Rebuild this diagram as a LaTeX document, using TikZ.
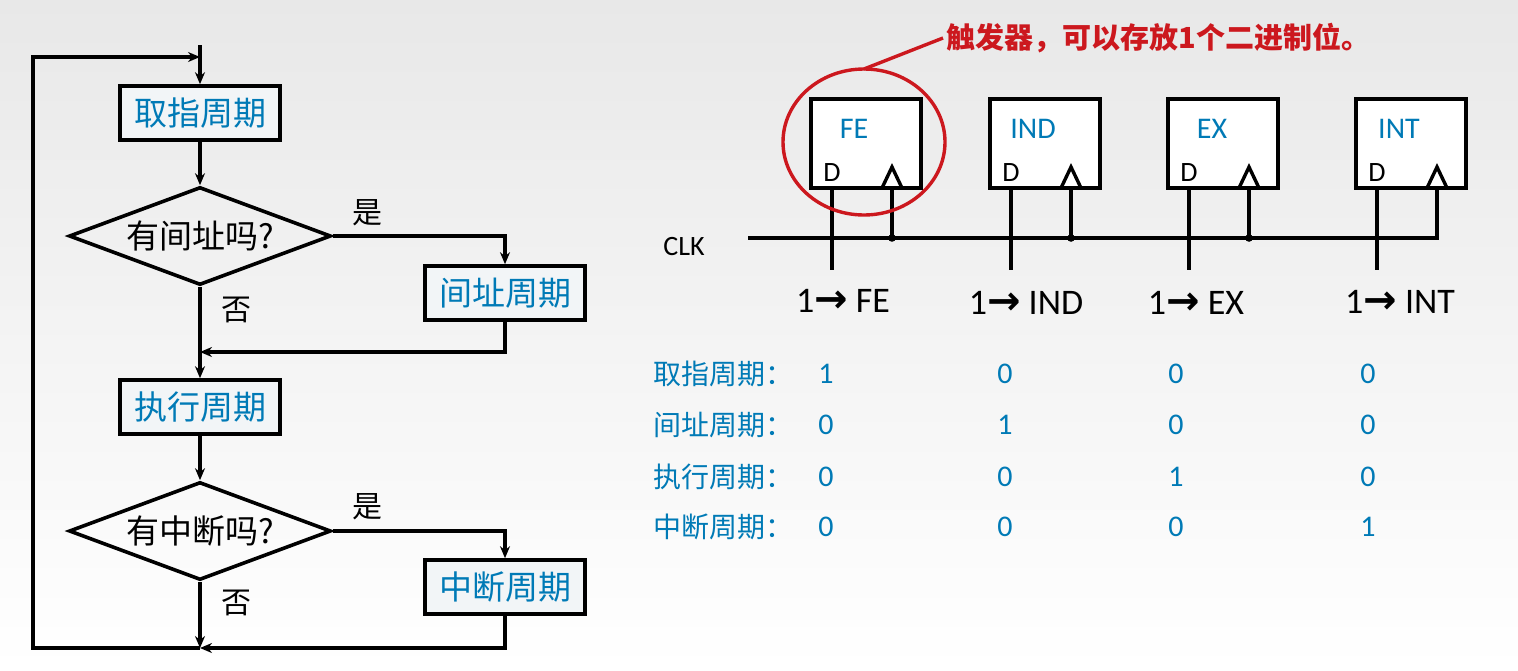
\documentclass[tikz,border=0pt]{standalone}
\usepackage{fontspec}
\setmainfont{Carlito}
\newfontfamily\cjk{Noto Sans CJK SC}
\newfontfamily\arrowfont{DejaVu Sans}
\usetikzlibrary{shapes.geometric,arrows.meta}
\definecolor{cycleblue}{RGB}{0,122,182}
\definecolor{boxfill}{RGB}{242,245,247}
\definecolor{markred}{RGB}{204,24,30}

\begin{document}
\begin{tikzpicture}[x=1pt, y=-1pt,
    cycle/.style={rectangle, draw=black, line width=3.6pt, fill=boxfill,
        minimum width=160pt, minimum height=54pt, inner sep=0pt,
        font=\cjk\fontsize{33}{33}\selectfont, text=cycleblue},
    query/.style={diamond, draw=black, line width=3.6pt, aspect=2.65,
        minimum width=262pt, minimum height=98pt, inner sep=0pt,
        font=\cjk\fontsize{33}{33}\selectfont},
    answer/.style={font=\cjk\fontsize{30}{30}\selectfont},
    flow/.style={line width=3.4pt, -{Stealth[length=12pt,width=10pt]}},
    ff/.style={rectangle, draw=black, line width=3.6pt, fill=white,
        minimum width=110pt, minimum height=89pt},
    ffname/.style={font=\fontsize{30}{30}\selectfont, text=cycleblue},
    pin/.style={font=\fontsize{28}{28}\selectfont},
    wire/.style={line width=3.4pt},
    setbit/.style={font=\fontsize{36}{36}\selectfont},
    rowname/.style={anchor=west, font=\cjk\fontsize{28}{28}\selectfont, text=cycleblue},
    bit/.style={font=\fontsize{30}{30}\selectfont, text=cycleblue}
]
    \fill[top color=gray!18, bottom color=white] (0,0) rectangle (1518,670);

    % flowchart
    \coordinate (start) at (200,45);
    \coordinate (top) at (200,57);
    \coordinate (j1) at (200,352);
    \coordinate (j2) at (200,648);
    \coordinate (lb) at (33,648);
    \coordinate (lt) at (33,57);
    \node[cycle] (fetch) at (200,113) {取指周期};
    \node[query] (q1) at (200,236) {有间址吗?};
    \node[cycle] (ind) at (505,293) {间址周期};
    \node[cycle] (exe) at (200,407) {执行周期};
    \node[query] (q2) at (200,531) {有中断吗?};
    \node[cycle] (intr) at (505,587) {中断周期};
    \node[answer] (yes1) at (367,213) {是};
    \node[answer] (no1) at (236,310) {否};
    \node[answer] (yes2) at (367,507) {是};
    \node[answer] (no2) at (236,603) {否};
    \draw[flow] (start) -- (fetch);
    \draw[flow] (fetch) -- (q1);
    \draw[flow] (q1.east) -| (ind);
    \draw[flow] (q1) -- (exe);
    \draw[flow] (ind) |- (j1);
    \draw[flow] (exe) -- (q2);
    \draw[flow] (q2.east) -| (intr);
    \draw[flow] (q2) -- (j2);
    \draw[flow] (intr) |- (j2);
    \draw[flow] (j2) -- (lb) -- (lt) -- (top);

    % flip-flops
    \node[ff] (fe) at (866,143.5) {};
    \node[ff] (indff) at (1045,143.5) {};
    \node[ff] (ex) at (1223,143.5) {};
    \node[ff] (int) at (1411,143.5) {};
    \node[ffname] (fe-name) at (854,129) {FE};
    \node[ffname] (indff-name) at (1033,129) {IND};
    \node[ffname] (ex-name) at (1212,129) {EX};
    \node[ffname] (int-name) at (1399,129) {INT};
    \node[pin] (fe-d) at (832,173) {D};
    \node[pin] (indff-d) at (1011,173) {D};
    \node[pin] (ex-d) at (1189,173) {D};
    \node[pin] (int-d) at (1377,173) {D};
    \coordinate (fe-clk) at (892,188);
    \coordinate (indff-clk) at (1071,188);
    \coordinate (ex-clk) at (1249,188);
    \coordinate (int-clk) at (1437,188);
    \draw[wire] (fe-clk) ++(-10,0) -- ++(10,-21) -- ++(10,21);
    \draw[wire] (indff-clk) ++(-10,0) -- ++(10,-21) -- ++(10,21);
    \draw[wire] (ex-clk) ++(-10,0) -- ++(10,-21) -- ++(10,21);
    \draw[wire] (int-clk) ++(-10,0) -- ++(10,-21) -- ++(10,21);
    \draw[wire] (fe-d |- fe.south) -- ++(0,80);
    \draw[wire] (indff-d |- indff.south) -- ++(0,80);
    \draw[wire] (ex-d |- ex.south) -- ++(0,80);
    \draw[wire] (int-d |- int.south) -- ++(0,80);

    % clock line
    \node[font=\fontsize{28}{28}\selectfont] (clk) at (684,247) {CLK};
    \coordinate (clk-start) at (748,238);
    \draw[wire] (clk-start) -- (int-clk |- clk-start) -- (int-clk);
    \draw[wire] (fe-clk) -- (fe-clk |- clk-start);
    \draw[wire] (indff-clk) -- (indff-clk |- clk-start);
    \draw[wire] (ex-clk) -- (ex-clk |- clk-start);
    \fill (fe-clk |- clk-start) circle (3.8);
    \fill (indff-clk |- clk-start) circle (3.8);
    \fill (ex-clk |- clk-start) circle (3.8);

    % note on the flip-flop
    \node[anchor=west, font=\cjk\bfseries\fontsize{29}{29}\selectfont, text=markred]
        (note) at (943,38) {触发器，可以存放1个二进制位。};
    \draw[markred, line width=3.4pt] (864,142) ellipse (81 and 73);
    \draw[markred, line width=3.4pt] (864,69) -- (note.west);

    % set signals
    \node[setbit] (fe-set) at (843,301) {1{\arrowfont\bfseries\fontsize{40}{36}\selectfont →} FE};
    \node[setbit] (indff-set) at (1026,303) {1{\arrowfont\bfseries\fontsize{40}{36}\selectfont →} IND};
    \node[setbit] (ex-set) at (1196,303) {1{\arrowfont\bfseries\fontsize{40}{36}\selectfont →} EX};
    \node[setbit] (int-set) at (1400,302) {1{\arrowfont\bfseries\fontsize{40}{36}\selectfont →} INT};

    % state table
    \node[rowname] (row1) at (650,374) {取指周期：};
    \node[rowname] (row2) at (650,425) {间址周期：};
    \node[rowname] (row3) at (650,477) {执行周期：};
    \node[rowname] (row4) at (650,527) {中断周期：};
    \node[bit] (b11) at (826,374) {1};
    \node[bit] (b12) at (1005,374) {0};
    \node[bit] (b13) at (1176,374) {0};
    \node[bit] (b14) at (1368,374) {0};
    \node[bit] (b21) at (826,425) {0};
    \node[bit] (b22) at (1005,425) {1};
    \node[bit] (b23) at (1176,425) {0};
    \node[bit] (b24) at (1368,425) {0};
    \node[bit] (b31) at (826,477) {0};
    \node[bit] (b32) at (1005,477) {0};
    \node[bit] (b33) at (1176,477) {1};
    \node[bit] (b34) at (1368,477) {0};
    \node[bit] (b41) at (826,527) {0};
    \node[bit] (b42) at (1005,527) {0};
    \node[bit] (b43) at (1176,527) {0};
    \node[bit] (b44) at (1368,527) {1};
\end{tikzpicture}
\end{document}
